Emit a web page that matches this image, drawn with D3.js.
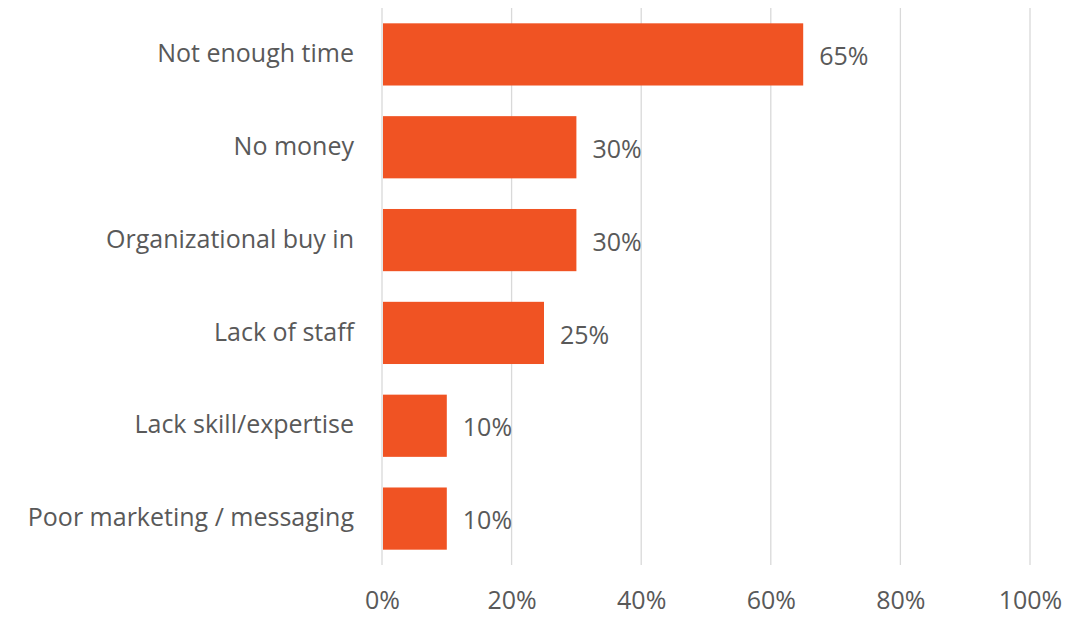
<!DOCTYPE html>
<html>
<head>
<meta charset="utf-8">
<script src="https://cdn.jsdelivr.net/npm/d3@7"></script>
<style>
  html, body { margin: 0; padding: 0; background: #fff; }
  svg text { font-family: "Open Sans", "Noto Sans", sans-serif; fill: #595959; }
</style>
</head>
<body>
<svg id="chart" width="1089" height="617"></svg>
<script>
// Survey responses: barriers reported
const categories = [
  "Not enough time",
  "No money",
  "Organizational buy in",
  "Lack of staff",
  "Lack skill/expertise",
  "Poor marketing / messaging"
];
const values = [0.65, 0.30, 0.30, 0.25, 0.10, 0.10];
const tickValues = [0, 0.2, 0.4, 0.6, 0.8, 1.0];

const svg = d3.select("#chart");
const margin = { left: 382, right: 59, top: 8, bottom: 52 };
const width = 1089, height = 617;
const fontSize = 25;

const x = d3.scaleLinear()
  .domain([0, 1])
  .range([margin.left, width - margin.right]);

const y = d3.scaleBand()
  .domain(categories)
  .range([margin.top, height - margin.bottom])
  .paddingInner(0.33)
  .paddingOuter(0.165);

const fmt = d3.format(".0%");

// vertical gridlines
svg.append("g")
  .selectAll("line")
  .data(tickValues)
  .join("line")
  .attr("x1", d => x(d)).attr("x2", d => x(d))
  .attr("y1", margin.top).attr("y2", height - margin.bottom)
  .attr("stroke", "#d9d9d9")
  .attr("stroke-width", 1.3);

// bars
svg.append("g")
  .selectAll("rect")
  .data(values)
  .join("rect")
  .attr("x", x(0) + 1)
  .attr("y", (d, i) => y(categories[i]))
  .attr("width", d => x(d) - x(0) - 1)
  .attr("height", y.bandwidth())
  .attr("fill", "#F05323");

// value labels
svg.append("g")
  .selectAll("text")
  .data(values)
  .join("text")
  .attr("x", d => x(d) + 16)
  .attr("y", (d, i) => y(categories[i]) + y.bandwidth() / 2 + 4)
  .attr("dominant-baseline", "middle")
  .attr("font-size", fontSize)
  .text(d => fmt(d));

// category axis labels
svg.append("g")
  .selectAll("text")
  .data(categories)
  .join("text")
  .attr("x", margin.left - 28)
  .attr("y", d => y(d) + y.bandwidth() / 2 + 1)
  .attr("text-anchor", "end")
  .attr("dominant-baseline", "middle")
  .attr("font-size", fontSize)
  .text(d => d);

// x axis tick labels
const xAxis = d3.axisBottom(x)
  .tickValues(tickValues)
  .tickFormat(fmt)
  .tickSize(0)
  .tickPadding(0);

const gx = svg.append("g")
  .attr("transform", `translate(0, ${height - 8})`)
  .call(xAxis);
gx.select(".domain").remove();
gx.selectAll("text")
  .attr("dy", 0)
  .attr("font-size", fontSize)
  .attr("fill", null);
gx.attr("font-family", null).attr("font-size", null);
</script>
</body>
</html>
